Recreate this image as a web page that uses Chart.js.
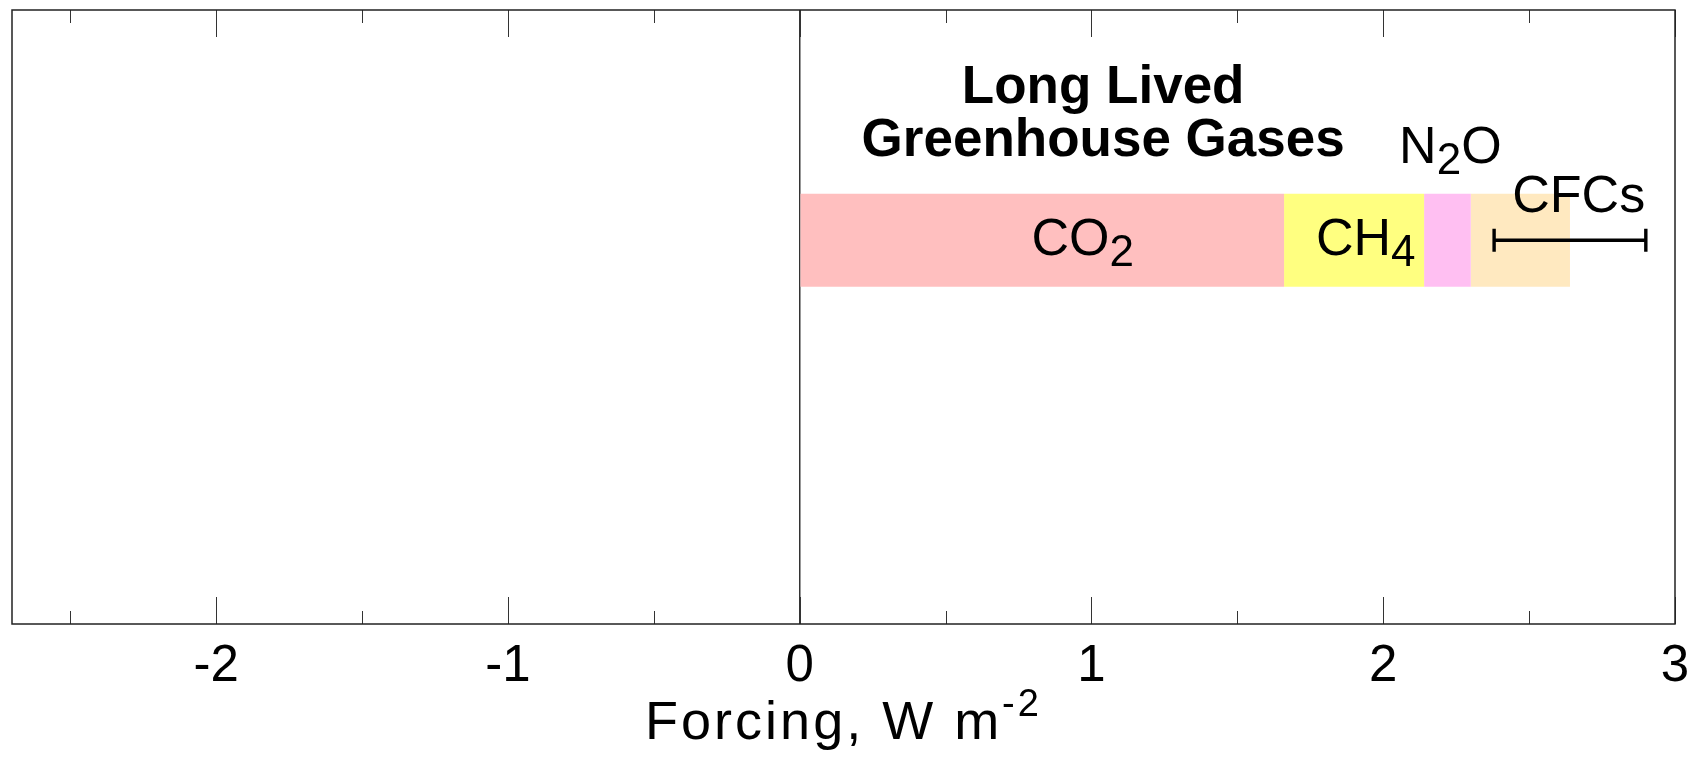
<!DOCTYPE html>
<html><head><meta charset="utf-8">
<script src="https://cdn.jsdelivr.net/npm/chart.js@4/dist/chart.umd.min.js"></script>
<style>html,body{margin:0;padding:0;background:#fff}#wrap{width:1702px;height:758px;position:relative}</style>
</head><body><div id="wrap"><canvas id="c"></canvas></div>
<script>
// ---- data ----
const categories = ['', 'Long Lived Greenhouse Gases', '', ''];
const co2Values = [null, 1.66, null, null];
const ch4Values = [null, 0.48, null, null];
const n2oValues = [null, 0.16, null, null];
const cfcValues = [null, 0.34, null, null];
const totalRangeLow = [null, 2.38, null, null];
const totalRangeHigh = [null, 2.90, null, null];
const xTickLabels = ['-2', '-1', '0', '1', '2', '3'];
const groupTitle = ['Long Lived', 'Greenhouse Gases'];
const axisTitleMain = 'Forcing, W m';
const axisTitleSup = '-2';
// label text parts: [text, isSubscript]
const co2Label = [['CO', false], ['2', true]];
const ch4Label = [['CH', false], ['4', true]];
const n2oLabel = [['N', false], ['2', true], ['O', false]];
const cfcLabel = [['CFCs', false]];

// ---- layout / style ----
const FONT = '"Liberation Sans", Arial, Helvetica, sans-serif';
const LINE = '#222';
const X_MIN = -2.7, X_MAX = 3, MINOR_STEP = 0.5;
const labelPlacement = [
  {parts: co2Label, x: 0.97, dy: 14.5},
  {parts: ch4Label, x: 1.94, dy: 14.5},
  {parts: n2oLabel, x: 2.23, dy: -77},
  {parts: cfcLabel, x: 2.67, dy: -28}
];

function drawParts(ctx, parts, cx, baseline, size) {
  const subSize = Math.round(size * 0.84);
  let w = 0;
  const meas = parts.map(([t, sub]) => {
    ctx.font = (sub ? subSize : size) + 'px ' + FONT;
    const m = ctx.measureText(t).width; w += m; return m;
  });
  let x = cx - w / 2;
  parts.forEach(([t, sub], i) => {
    ctx.font = (sub ? subSize : size) + 'px ' + FONT;
    ctx.fillText(t, x, sub ? baseline + 11 : baseline);
    x += meas[i];
  });
}

const decor = {
  id: 'decor',
  afterDatasetsDraw(chart) {
    const {ctx, chartArea: a, scales: {x, y}} = chart;
    ctx.save();
    // error bar
    for (let i = 0; i < categories.length; i++) {
      if (totalRangeLow[i] == null) continue;
      const yc = y.getPixelForValue(i);
      const x1 = x.getPixelForValue(totalRangeLow[i]);
      const x2 = x.getPixelForValue(totalRangeHigh[i]);
      ctx.strokeStyle = '#000'; ctx.lineWidth = 3.4;
      ctx.beginPath();
      ctx.moveTo(x1, yc); ctx.lineTo(x2, yc);
      ctx.moveTo(x1, yc - 11.5); ctx.lineTo(x1, yc + 11.5);
      ctx.moveTo(x2, yc - 11.5); ctx.lineTo(x2, yc + 11.5);
      ctx.stroke();
    }
    // inward tick marks
    ctx.strokeStyle = '#333'; ctx.lineWidth = 1;
    x.ticks.forEach(t => {
      const len = Number.isInteger(t.value) ? 27 : 13;
      const px = Math.round(x.getPixelForValue(t.value)) + 0.5;
      ctx.beginPath();
      ctx.moveTo(px, a.top); ctx.lineTo(px, a.top + len);
      ctx.moveTo(px, a.bottom); ctx.lineTo(px, a.bottom - len);
      ctx.stroke();
    });
    // frame
    ctx.strokeStyle = LINE; ctx.lineWidth = 1.5;
    ctx.strokeRect(a.left, a.top, a.right - a.left, a.bottom - a.top);
    // labels
    ctx.fillStyle = '#000'; ctx.textBaseline = 'alphabetic'; ctx.textAlign = 'left';
    const yc = y.getPixelForValue(1);
    labelPlacement.forEach(l => drawParts(ctx, l.parts, x.getPixelForValue(l.x), yc + l.dy, 52));
    // group title
    ctx.font = 'bold 53px ' + FONT; ctx.textAlign = 'center';
    const tx = x.getPixelForValue(1.04);
    ctx.fillText(groupTitle[0], tx, yc - 137);
    ctx.fillText(groupTitle[1], tx, yc - 84);
    // axis title
    ctx.textAlign = 'left';
    if ('letterSpacing' in ctx) ctx.letterSpacing = '3px';
    ctx.font = '54px ' + FONT;
    const wm = ctx.measureText(axisTitleMain).width;
    ctx.font = '38px ' + FONT;
    const ws = ctx.measureText(axisTitleSup).width;
    const cx = (a.left + a.right) / 2;
    const sx = cx - (wm + ws) / 2;
    ctx.font = '54px ' + FONT;
    ctx.fillText(axisTitleMain, sx, 739);
    ctx.font = '38px ' + FONT;
    ctx.fillText(axisTitleSup, sx + wm, 716);
    ctx.restore();
  }
};

const colors = ['#FFBFBF', '#FFFF80', '#FFBFF2', '#FFE9C0'];
new Chart(document.getElementById('c'), {
  type: 'bar',
  data: {
    labels: categories,
    datasets: [
      {label: 'CO2', data: co2Values, backgroundColor: colors[0]},
      {label: 'CH4', data: ch4Values, backgroundColor: colors[1]},
      {label: 'N2O', data: n2oValues, backgroundColor: colors[2]},
      {label: 'CFCs', data: cfcValues, backgroundColor: colors[3]}
    ]
  },
  options: {
    indexAxis: 'y',
    responsive: true,
    maintainAspectRatio: false,
    animation: false,
    layout: {padding: {left: 12, right: 27, top: 10, bottom: 0}},
    datasets: {bar: {categoryPercentage: 0.606, barPercentage: 1, borderWidth: 0}},
    plugins: {legend: {display: false}, tooltip: {enabled: false}},
    scales: {
      y: {type: 'category', stacked: true, display: false},
      x: {
        type: 'linear', stacked: true, min: X_MIN, max: X_MAX,
        border: {display: false},
        grid: {
          drawTicks: false, drawOnChartArea: true, lineWidth: 1.5,
          color: c => (c.tick && c.tick.value === 0) ? '#333' : 'rgba(0,0,0,0)'
        },
        afterBuildTicks: s => {
          const t = [];
          for (let k = Math.ceil(X_MIN / MINOR_STEP); k * MINOR_STEP <= X_MAX + 1e-9; k++) t.push({value: k * MINOR_STEP});
          s.ticks = t;
        },
        ticks: {
          autoSkip: false, maxRotation: 0, padding: 12,
          color: '#000', font: {family: FONT, size: 51},
          callback: v => { const s = String(v); return xTickLabels.includes(s) ? s : ''; }
        },
        afterFit: s => { s.height = 134; }
      }
    }
  },
  plugins: [decor]
});
</script></body></html>
